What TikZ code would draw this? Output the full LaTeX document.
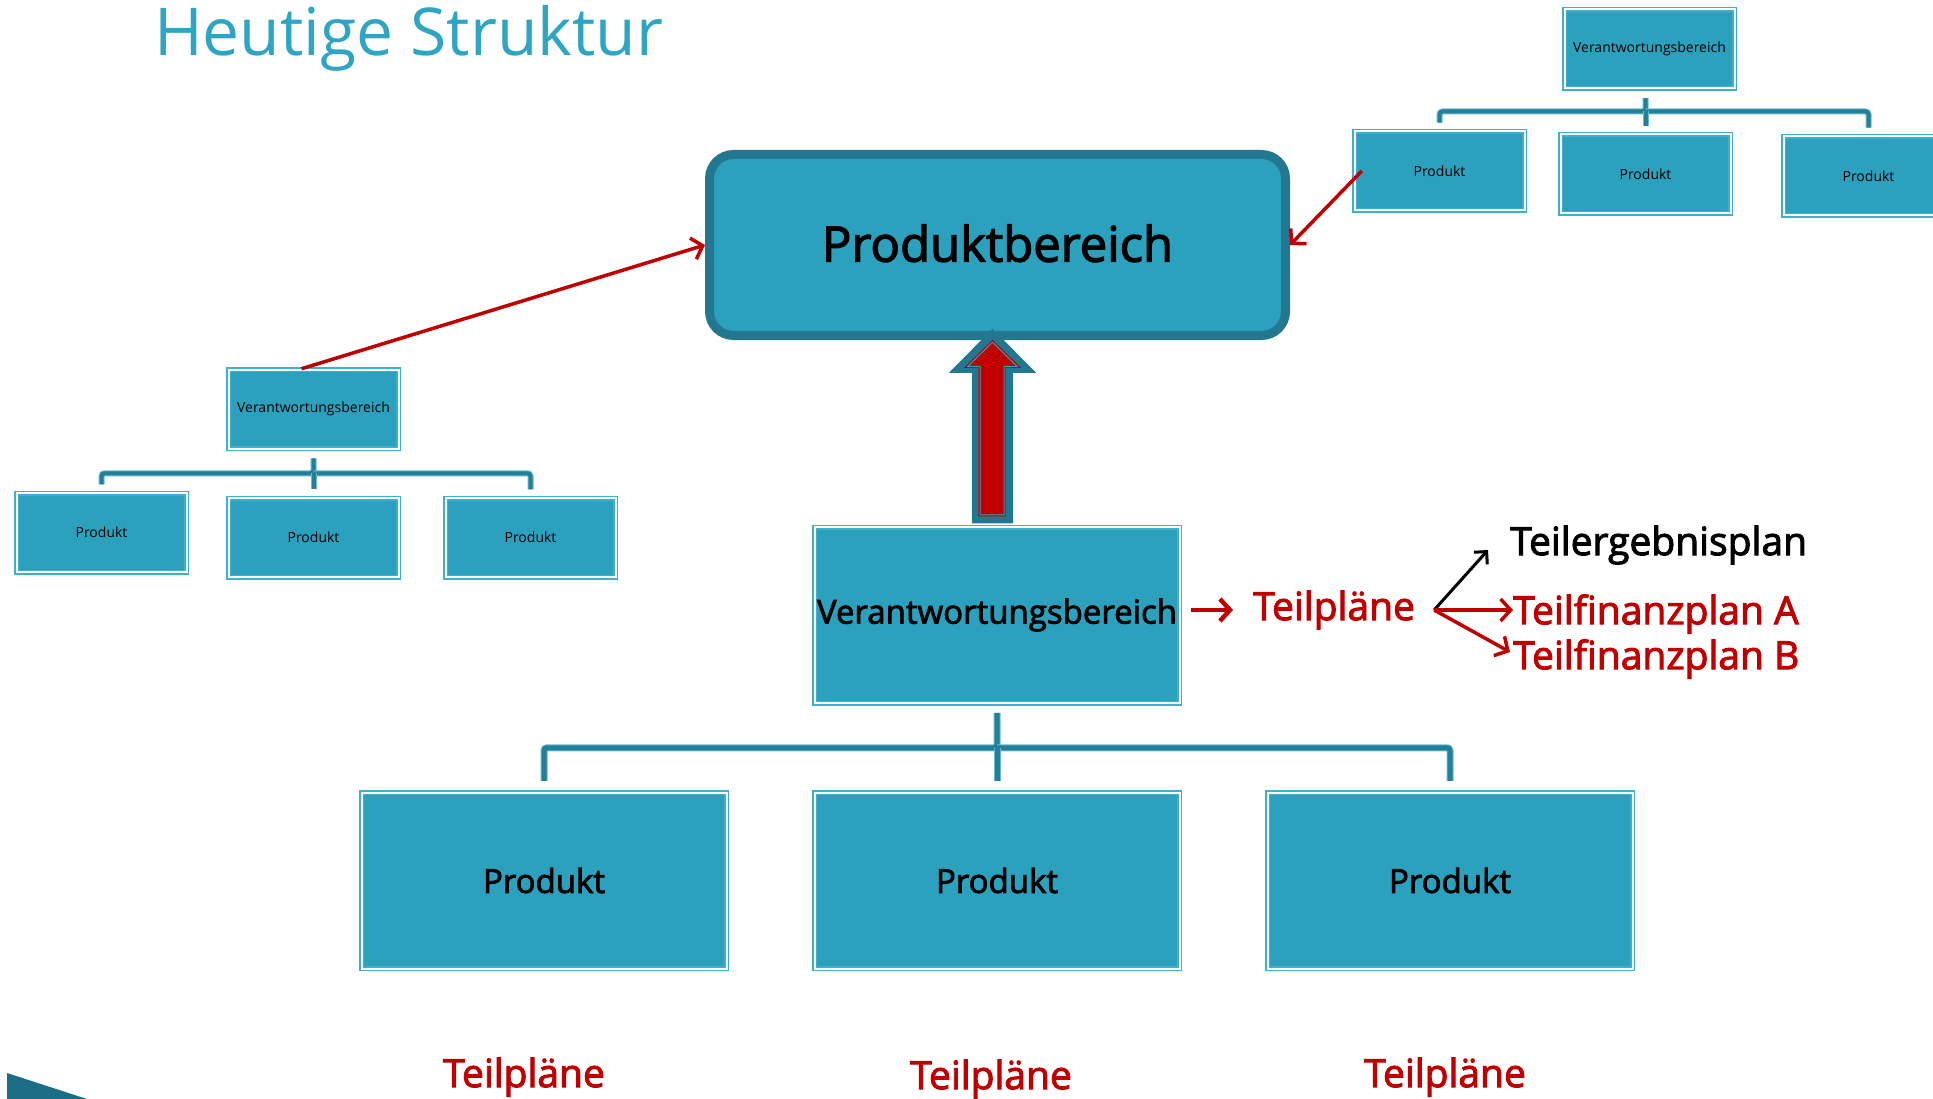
\documentclass[tikz,border=0pt]{standalone}
\usepackage{fontspec}
\setmainfont{Open Sans}
\newfontfamily\medfont{Open Sans}[FakeBold=2.5]
\usetikzlibrary{calc}
\usetikzlibrary{arrows.meta}
\definecolor{boxfill}{HTML}{2CA1BE}
\definecolor{boxedge}{HTML}{3DB0CB}
\definecolor{pbedge}{HTML}{217890}
\definecolor{orgdark}{HTML}{257F96}
\definecolor{orgedge}{HTML}{62BBD0}
\definecolor{planred}{HTML}{C00000}
\definecolor{titleblue}{HTML}{2EA5C2}
\definecolor{cornerteal}{HTML}{1B6D85}
\newcommand{\setfs}[1]{\fontsize{#1}{#1}\selectfont}

\begin{document}
\begin{tikzpicture}[x=1pt,y=-1pt,
  orgbox/.style={fill=boxfill,draw=boxedge,double=white,double distance=2pt,line width=1.5pt,inner sep=0pt},
  bigbox/.style={orgbox,minimum width=365pt,minimum height=176pt,font=\medfont\setfs{33}},
  smallbox/.style={orgbox,minimum width=170pt,minimum height=79pt,font=\setfs{14}},
  orgline/.style={draw=orgedge,double=orgdark,double distance=5pt,line width=1pt,rounded corners=3pt},
  orgthin/.style={orgline,double distance=4pt},
  redarrow/.style={draw=planred,line width=3.5pt,-{Straight Barb[length=10pt,width=22pt]}},
  plantext/.style={inner sep=0pt,anchor=west,font=\medfont\setfs{39}}]
  \useasboundingbox (0,0) rectangle (1933,1099);

  \node[inner sep=0pt,anchor=west,text=titleblue,font=\setfs{66}] (title) at (154,38) {Heutige Struktur};

  % Produktbereich
  \node[fill=boxfill,draw=pbedge,line width=9pt,rounded corners=24pt,minimum width=576pt,minimum height=181pt,font=\medfont\setfs{49}] (pb) at (997.5,245) {\raisebox{4pt}{Produktbereich}};
  \draw[pbedge,line width=1.5pt,rounded corners=16pt] ([shift={(8,8)}]pb.north west) rectangle ([shift={(-8,-8)}]pb.south east);

  % main tree
  \node[bigbox] (vb) at (997,615) {Verantwortungsbereich};
  \node[bigbox] (p1) at (544,880.5) {Produkt};
  \node[bigbox] (p2) at (997,880.5) {Produkt};
  \node[bigbox] (p3) at (1450,880.5) {Produkt};
  \coordinate (mbus) at ($(vb.south)!0.5!(p2.north)$);
  \draw[orgline] ([yshift=-9pt]vb.south) -- (mbus) -| ([yshift=11pt]p1.north);
  \draw[orgline] (mbus) -| ([yshift=11pt]p3.north);
  \draw[orgline] (mbus) -- ([yshift=11pt]p2.north);

  % left tree
  \node[smallbox] (lv) at (313.5,409) {Verantwortungsbereich};
  \node[smallbox] (lp1) at (101.5,532.5) {Produkt};
  \node[smallbox] (lp2) at (313.5,537.5) {Produkt};
  \node[smallbox] (lp3) at (530.5,537.5) {Produkt};
  \coordinate (lbus) at ($(lv.south)!0.5!(lp2.north)$);
  \draw[orgthin] ([yshift=-9pt]lv.south) -- (lbus) -| ([yshift=8pt]lp1.north);
  \draw[orgthin] (lbus) -| ([yshift=8pt]lp3.north);
  \draw[orgthin] (lbus) -- ([yshift=8pt]lp2.north);

  % right tree
  \node[smallbox] (rv) at (1649.5,49) {Verantwortungsbereich};
  \node[smallbox] (rp1) at (1439.5,171) {Produkt};
  \node[smallbox] (rp2) at (1645.5,174) {Produkt};
  \node[smallbox] (rp3) at (1868.5,176) {Produkt};
  \coordinate (rbus) at (rp2.north |- {$(rv.south)!0.5!(rp2.north)$});
  \draw[orgthin] ([yshift=-9pt]rv.south -| rbus) -- (rbus) -| ([yshift=8pt]rp1.north);
  \draw[orgthin] (rbus) -| ([yshift=8pt]rp3.north);
  \draw[orgthin] (rbus) -- ([yshift=8pt]rp2.north);

  % big arrow up
  \begin{scope}[shift={(vb.north)}]
    \fill[pbedge] (-25,-3) -- (-25,-153.5) -- (-48,-153.5) -- (-4.5,-197.5) -- (39,-153.5) -- (16,-153.5) -- (16,-3) -- cycle;
    \path[fill=planred,draw=planred,double=boxfill,double distance=1pt,line width=1.2pt]
      (-17,-11.5) -- (-17,-160) -- (-29,-160) -- (-4.5,-184) -- (20,-160) -- (7,-160) -- (7,-11.5) -- cycle;
  \end{scope}

  \draw[redarrow] ([xshift=-12pt]lv.north) -- (pb.west);
  \draw[redarrow] ([xshift=8pt]rp1.west) -- (pb.east);

  % Teilplaene
  \node[plantext,text=planred] (tp) at (1253,610) {Teilpläne};
  \draw[redarrow,line width=4.5pt] (vb.east |- tp.west) ++(11,0) -- ([xshift=-20pt]tp.west);
  \coordinate (fork) at ([xshift=19pt]tp.east);
  \node[plantext] (teg) at (1510,545) {Teilergebnisplan};
  \node[plantext,text=planred] (tfa) at (1513,614) {Teilfinanzplan A};
  \node[plantext,text=planred] (tfb) at (1513,659) {Teilfinanzplan B};
  \draw[line width=3pt,-{Straight Barb[length=9pt,width=18pt]}] (fork) -- ([xshift=-22pt,yshift=-5pt]teg.west);
  \draw[redarrow] (fork) -- (fork -| tfa.west);
  \draw[redarrow] (fork) -- ([xshift=-3pt,yshift=7pt]tfb.west);

  \node[plantext,anchor=center,text=planred] (tp1) at (524,1077) {Teilpläne};
  \node[plantext,anchor=center,text=planred] (tp2) at (991,1079) {Teilpläne};
  \node[plantext,anchor=center,text=planred] (tp3) at (1445,1077) {Teilpläne};

  \fill[cornerteal] (7,1073) -- (90,1100) -- (7,1100) -- cycle;
\end{tikzpicture}
\end{document}
